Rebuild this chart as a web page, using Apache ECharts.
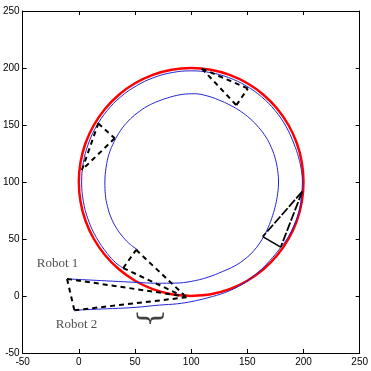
<!DOCTYPE html>
<html>
<head>
<meta charset="utf-8">
<script src="https://cdn.jsdelivr.net/npm/echarts@6/dist/echarts.min.js"></script>
<style>
html,body{margin:0;padding:0;background:#fff;}
#chart{width:371px;height:371px;}
</style>
</head>
<body>
<div id="chart"></div>
<script>
// ---- data ----
var xTicks = [-50, 0, 50, 100, 150, 200, 250];
var yTicks = [-50, 0, 50, 100, 150, 200, 250];

// reference (leader) circle, red
var leaderPath = [
  [100,0],[117.4,1.5],[134.2,6.0],[150,13.4],[164.3,23.4],[176.6,35.7],[186.6,50],[194.0,65.8],[198.5,82.6],
  [200,100],[198.5,117.4],[194.0,134.2],[186.6,150],[176.6,164.3],[164.3,176.6],[150,186.6],[134.2,194.0],[117.4,198.5],
  [100,200],[82.6,198.5],[65.8,194.0],[50,186.6],[35.7,176.6],[23.4,164.3],[13.4,150],[6.0,134.2],[1.5,117.4],
  [0,100],[1.5,82.6],[6.0,65.8],[13.4,50],[23.4,35.7],[35.7,23.4],[50,13.4],[65.8,6.0],[82.6,1.5],[100,0]
];

// Robot 1 trajectory (inner blue)
var robot1Path = [
  [-10.5,15],[10,14],[30,13],[50,12],[70,11.2],[86,11.3],[100,12.8],[115,16.5],[128,21.5],[139,26.5],
  [148,32.5],[156,40],[163,49.5],[168.5,60],[172.5,70.5],[175.3,80.5],[177,90],[177.8,100],[177,110],
  [175,120],[171.5,130],[166.5,139.5],[160,148],[152.5,155.5],[144,162],[134.5,167.5],[124.5,172],[114,175.6],
  [103,177.4],[92,176.8],[81.5,174.5],[71,171],[61,166.5],[52,160.5],[44,153.5],[37,145],[31.5,135.5],
  [27,125],[24.3,113],[23.2,100],[23.6,89],[25.5,78.5],[28.8,68.5],[33.5,59.5],[39.5,51.5],[46,45],[52.4,40.5]
];

// Robot 2 trajectory (outer blue)
var robot2Path = [
  [-4,-12.5],[10,-11.8],[30,-11],[50,-10],[71.5,-8],[88,-6.8],[100.7,-4.8],[115,-1.5],[130,3],[145,10],
  [159.3,20.5],[170,31],[179.7,42.5],[186.5,52],[192.5,64],[196.5,76],[198.3,88],[199,100],[198,111],
  [195.5,122],[191.6,133.3],[184.4,148.8],[174.7,162.7],[162.7,174.7],[148.8,184.4],[133.3,191.6],[116.9,196.0],
  [100,197.5],[83.1,196.0],[66.7,191.6],[51.3,184.4],[37.3,174.7],[25.3,162.7],[15.6,148.8],[8.4,133.3],
  [4.0,116.9],[2.5,100],[4.0,83.1],[8.4,66.7],[15.6,51.3],[25.3,37.3],[33,29],[39.5,24.5]
];

// formation snapshots (dashed)
var dashedSegments = [
  [[-10.5,15],[95,-0.4]], [[-4,-12.5],[98,-0.9]], [[-10.5,15],[-4,-12.5]],
  [[51,40.5],[95,-0.4]], [[39.5,24.5],[87,2.5]], [[39.5,24.5],[51,40.5]],
  [[17.3,151.4],[31.9,138.3]], [[31.9,138.3],[2.7,110.5]], [[2.7,110.5],[17.3,151.4]],
  [[109.5,199.5],[140.2,167.4]], [[140.2,167.4],[150.5,182]], [[109.5,199.5],[150.5,182]]
];
var fineDashedSegments = [
  [[198.8,91.5],[163.7,52.1]], [[198.8,91.5],[179.7,42.8]]
];
var solidSegments = [
  [[163.7,52.1],[179.7,42.8]]
];

var textLabels = [
  {name: 'Robot 1', value: [-19, 28.5]},
  {name: 'Robot 2', value: [-2, -25.5]}
];
var braceLabel = [{name: '}', value: [63, -19.5]}];

// ---- chart ----
var chart = echarts.init(document.getElementById('chart'), null, {renderer: 'canvas'});

function axisCommon(showLabel, pos) {
  return {
    type: 'value', min: -50, max: 250, interval: 50, position: pos,
    axisLine: {show: true, onZero: false, lineStyle: {color: '#000', width: 1}},
    axisTick: {show: true, inside: true, length: 4, lineStyle: {color: '#000', width: 1}},
    splitLine: {show: false},
    axisLabel: {show: showLabel, color: '#000', fontSize: 10, fontFamily: 'Liberation Sans, Arial, sans-serif',
      showMinLabel: true, showMaxLabel: true},
  };
}
var xa0 = axisCommon(true, 'bottom'); xa0.axisLabel.margin = 4;
var xa1 = axisCommon(false, 'top');
var ya0 = axisCommon(true, 'left'); ya0.axisLabel.margin = 3;
var ya1 = axisCommon(false, 'right');

var series = [];
series.push({type: 'line', data: leaderPath, smooth: 0.3, showSymbol: false, symbol: 'none',
  lineStyle: {color: '#ff0000', width: 2.5}, z: 2});
series.push({type: 'line', data: robot1Path, smooth: 0.4, showSymbol: false, symbol: 'none',
  lineStyle: {color: '#2424d4', width: 1}, z: 3});
series.push({type: 'line', data: robot2Path, smooth: 0.4, showSymbol: false, symbol: 'none',
  lineStyle: {color: '#2424d4', width: 1}, z: 3});
dashedSegments.forEach(function (s) {
  series.push({type: 'line', data: s, showSymbol: false, symbol: 'none',
    lineStyle: {color: '#000', width: 2, type: [5, 4]}, z: 4});
});
fineDashedSegments.forEach(function (s) {
  series.push({type: 'line', data: s, showSymbol: false, symbol: 'none',
    lineStyle: {color: '#000', width: 1.8, type: [9, 2]}, z: 4});
});
solidSegments.forEach(function (s) {
  series.push({type: 'line', data: s, showSymbol: false, symbol: 'none',
    lineStyle: {color: '#000', width: 1.5}, z: 4});
});
series.push({type: 'scatter', data: textLabels, symbolSize: 0, silent: true, z: 5,
  label: {show: true, position: 'inside', formatter: '{b}', color: '#222', fontSize: 13,
    fontFamily: 'Liberation Serif, Times New Roman, serif'}});
series.push({type: 'scatter', data: braceLabel, symbolSize: 0, silent: true, z: 5,
  label: {show: true, position: 'inside', formatter: '{b}', color: '#111', fontSize: 30, rotate: -90,
    fontFamily: 'DejaVu Serif, Liberation Serif, serif'}});

chart.setOption({
  animation: false,
  backgroundColor: '#fff',
  grid: {left: 22, right: 8, top: 11, bottom: 18, containLabel: false},
  xAxis: [xa0, xa1],
  yAxis: [ya0, ya1],
  series: series
});
</script>
</body>
</html>
